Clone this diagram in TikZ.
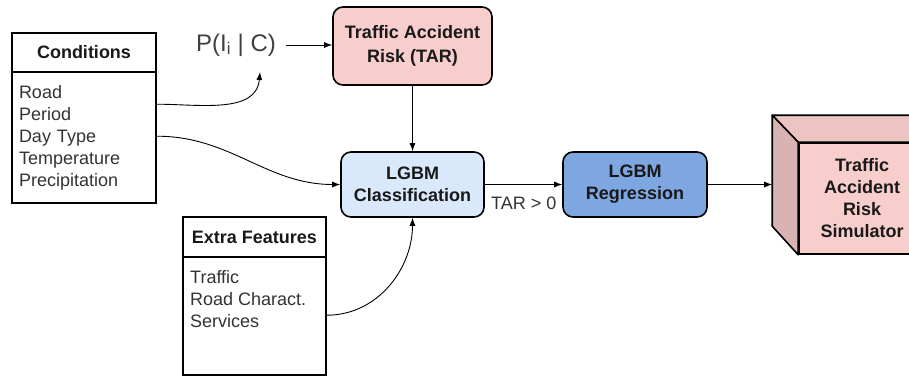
\documentclass[tikz,border=0pt]{standalone}
\usepackage{fontspec}
\setmainfont{Liberation Sans}
\usepackage{tikz}
\usetikzlibrary{arrows.meta,calc,positioning}
\usepackage{xcolor}
\definecolor{RiskPink}{HTML}{F8CECC}
\definecolor{ClassBlue}{HTML}{DAE8FC}
\definecolor{RegBlue}{HTML}{7EA6E0}
\definecolor{TextGray}{HTML}{333333}

\begin{document}
\begin{tikzpicture}[x=1pt, y=-1pt,
  txt/.style={font=\fontsize{18}{22}\selectfont, text=TextGray},
  boldtxt/.style={font=\fontsize{18}{22}\selectfont\bfseries, text=black!90},
  listbox/.style={draw, line width=1.6pt, inner sep=0pt, minimum width=144pt},
  modelbox/.style={boldtxt, draw, line width=1.6pt, rounded corners=10pt, inner sep=0pt, align=center},
  flow/.style={-{Latex[length=8pt,width=6pt]}, line width=0.9pt}]
\useasboundingbox (0,0) rectangle (909,380);
\clip (0,0) rectangle (909,380);
% Input tables
\node[listbox, boldtxt, minimum height=39pt] (condhead) at (84,52.5) {Conditions};
\node[listbox, txt, minimum height=131pt, text width=130pt, align=left, inner xsep=7pt] (condbody) at (84,137.5)
  {Road\\Period\\Day Type\\Temperature\\Precipitation};
\node[listbox, boldtxt, minimum width=143pt, minimum height=40pt] (extrahead) at (254.5,237) {Extra Features};
\node[listbox, minimum width=143pt, minimum height=118pt] (extrabody) at (254.5,316) {};
\node[txt, anchor=north west, align=left, inner sep=0pt] (extratext) at (190,270.5)
  {Traffic\\Road Charact.\\Services};
% Models
\node[modelbox, fill=RiskPink, minimum width=159pt, minimum height=78pt, font=\fontsize{18}{24}\selectfont\bfseries] (tar) at (412.5,46)
  {Traffic Accident\\Risk (TAR)};
\node[modelbox, fill=ClassBlue, minimum width=143pt, minimum height=65pt] (class) at (412.5,184.5)
  {LGBM\\Classification};
\node[modelbox, fill=RegBlue, minimum width=144pt, minimum height=65pt] (reg) at (635,184.5)
  {LGBM\\Regression};
\node[font=\fontsize{24}{26}\selectfont, text=black!75, inner xsep=10pt] (pcond) at (236,45) {P(I\textsubscript{i} | C)};
\node[txt, anchor=west, inner sep=0pt] (tarlbl) at (491,203) {TAR > 0};
% Simulator cube
\node[boldtxt, fill=RiskPink, draw, line width=1.6pt, minimum width=119pt, minimum height=111pt, inner sep=0pt, align=center] (sim) at (858.5,198.5)
  {\hspace*{7pt}Traffic\\\hspace*{7pt}Accident\\\hspace*{7pt}Risk\\\hspace*{7pt}Simulator};
\coordinate (simback) at ($(sim.north west)+(-26,-27)$);
\filldraw[fill=RiskPink!95!black, line width=1.6pt, line join=round] (sim.north west) -- (simback) -- ++(145,0) -- (sim.north east) -- cycle;
\filldraw[fill=RiskPink!87!black, line width=1.6pt, line join=round] (sim.north west) -- (simback) -- ++(0,111) -- (sim.south west) -- cycle;
% Connectors
\coordinate (condA) at ($(condbody.north east)+(0,33)$);
\coordinate (condB) at ($(condbody.north east)+(0,65)$);
\coordinate (extraA) at ($(extrabody.north east)+(0,59)$);
\coordinate (ptip) at (260,72);
\draw[flow] (condA) to[out=0, in=-95] (ptip);
\draw[flow] (pcond.east) -- (pcond.east -| tar.west);
\draw[flow] (tar.south) -- (class.north);
\draw[flow] (condB) to[out=0, in=180] (class.west);
\draw[flow] (extraA) to[out=0, in=-90] (class.south);
\draw[flow] (class.east) -- (reg.west);
\draw[flow] (reg.east) -- (reg.east -| simback);
\end{tikzpicture}
\end{document}
